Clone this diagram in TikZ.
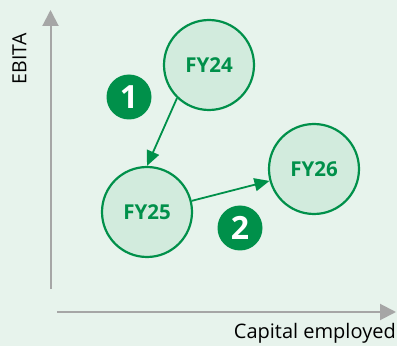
\documentclass[tikz,border=0pt]{standalone}
\usepackage{fontspec}
\setmainfont{Open Sans}
\usetikzlibrary{arrows.meta}
\definecolor{bggreen}{HTML}{E7F3EC}
\definecolor{darkgreen}{HTML}{00904A}
\definecolor{lightgreen}{HTML}{D2EBDD}
\definecolor{axisgray}{HTML}{A6A6A6}
\tikzset{
  year/.style = {circle, draw = darkgreen, line width = 2.2pt, fill = lightgreen, minimum size = 90pt, inner sep = 0pt, text = darkgreen, font = \fontsize{20.5}{20.5}\selectfont\bfseries},
  badge/.style = {circle, fill = darkgreen, minimum size = 45pt, inner sep = 0pt, text = white, font = \fontsize{32}{32}\selectfont\bfseries},
  move/.style = {draw = darkgreen, line width = 1.8pt, -{Triangle[length = 15pt, width = 13pt]}},
  axis/.style = {draw = axisgray, line width = 2pt, -{Triangle[length = 16pt, width = 16pt]}}
}
\begin{document}
\begin{tikzpicture}[x = 1pt, y = 1pt]
\fill[bggreen] (0,0) rectangle (397,346);
\useasboundingbox (0,0) rectangle (397,346);
\coordinate (yfoot) at (50.5,57);
\coordinate (ytop) at (50.5,336);
\coordinate (xfoot) at (57,34);
\coordinate (xtip) at (396,34);
\draw[axis] (yfoot) -- (ytop);
\draw[axis] (xfoot) -- (xtip);
\node[rotate = 90, font = \fontsize{19.5}{19.5}\selectfont] (ebita) at (19.5,287) {EBITA};
\node[anchor = south east, inner sep = 0pt, font = \fontsize{20}{20}\selectfont] (capital) at (396,2) {Capital employed};
\node[year] (fy24) at (209,281) {FY24};
\node[year] (fy25) at (147,134) {FY25};
\node[year] (fy26) at (314,177) {FY26};
\node[badge] (one) at (129,249) {1};
\node[badge] (two) at (240,118) {2};
\draw[move] (fy24.226) -- (fy25.north);
\draw[move] (fy25.14) -- (fy26.195);
\end{tikzpicture}
\end{document}
